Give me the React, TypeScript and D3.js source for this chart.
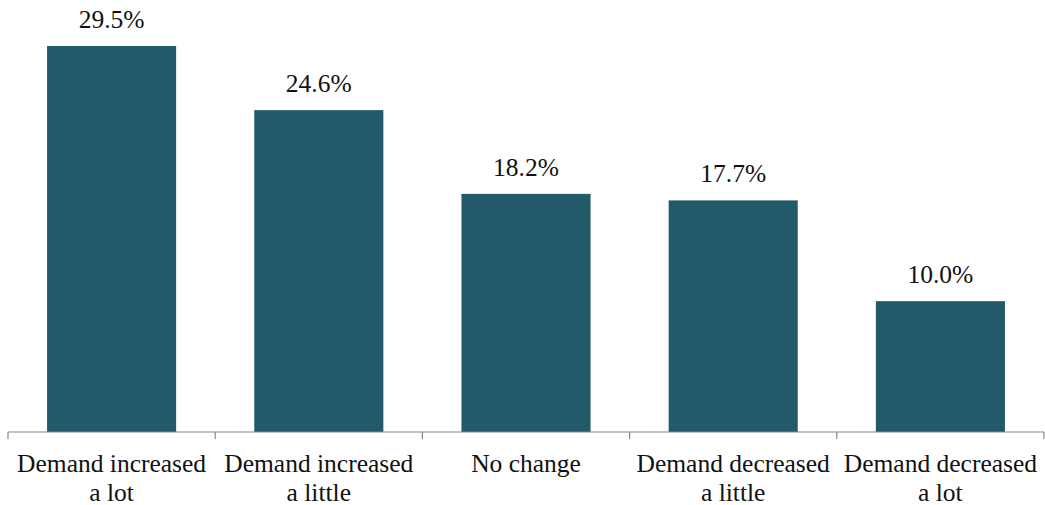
import React from "react";
import * as d3 from "d3";

const categories: string[][] = [
  ["Demand increased", "a lot"],
  ["Demand increased", "a little"],
  ["No change"],
  ["Demand decreased", "a little"],
  ["Demand decreased", "a lot"],
];
const values: number[] = [29.5, 24.6, 18.2, 17.7, 10.0];
const labels: string[] = ["29.5%", "24.6%", "18.2%", "17.7%", "10.0%"];

const W = 1045;
const H = 505;
const left = 8;
const right = 1044;
const baseY = 432;
const topY = 46;
const font = "'Liberation Serif', 'DejaVu Serif', serif";

export default function App() {
  const idx = categories.map((_, i) => String(i));
  const x = d3.scaleBand<string>().domain(idx).range([left, right]).paddingInner(0.377).paddingOuter(0.1885);
  const y = d3.scaleLinear().domain([0, 29.5]).range([baseY, topY]);
  const step = x.step();
  const tickXs = d3.range(categories.length + 1).map((i) => left + step * i);
  const textStyle = { fontFamily: font, fontSize: "25.5px" } as React.CSSProperties;

  return (
    <svg width={W} height={H} style={{ position: "absolute", left: 0, top: 0, background: "#fff" }}>
      {values.map((v, i) => (
        <rect key={i} x={x(String(i))!} y={y(v)} width={x.bandwidth()} height={y(0) - y(v)} fill="#235a69" />
      ))}
      {values.map((v, i) => (
        <text
          key={"l" + i}
          x={x(String(i))! + x.bandwidth() / 2}
          y={y(v) - 18}
          textAnchor="middle"
          style={textStyle}
          fill="#111"
        >
          {labels[i]}
        </text>
      ))}
      <line x1={left} x2={right} y1={baseY} y2={baseY} stroke="#888" strokeWidth={1.2} />
      {tickXs.map((tx, i) => (
        <line key={"t" + i} x1={tx} x2={tx} y1={baseY} y2={baseY + 7} stroke="#888" strokeWidth={1.2} />
      ))}
      {categories.map((lines, i) => (
        <text
          key={"c" + i}
          x={x(String(i))! + x.bandwidth() / 2}
          y={472}
          textAnchor="middle"
          style={textStyle}
          fill="#111"
        >
          {lines.map((ln, j) => (
            <tspan key={j} x={x(String(i))! + x.bandwidth() / 2} dy={j === 0 ? 0 : 28.5}>
              {ln}
            </tspan>
          ))}
        </text>
      ))}
    </svg>
  );
}
